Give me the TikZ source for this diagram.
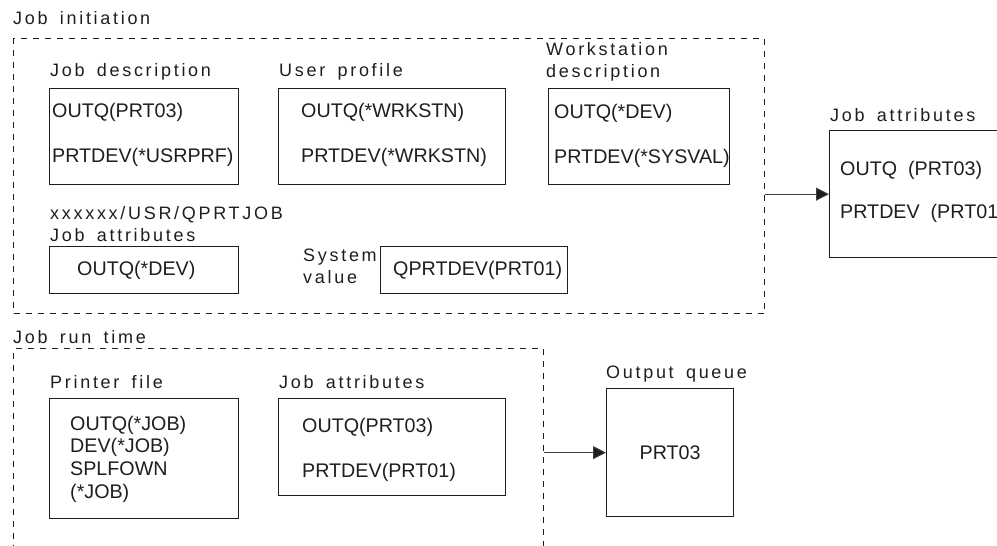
\documentclass[tikz,border=0pt]{standalone}
\usepackage{fontspec}
\setmainfont{Liberation Sans}
\newfontfamily\spacedfont[LetterSpace=15,WordSpace=1.6]{Liberation Sans}
\usetikzlibrary{arrows.meta}
\definecolor{inkgray}{RGB}{30,30,30}

\tikzset{
    box/.style={draw=inkgray, line width=1.3pt, inner sep=0pt, anchor=north west},
    phase/.style={draw=inkgray, line width=1pt, dash pattern=on 6pt off 6pt,
        inner sep=0pt, anchor=north west},
    entry/.style={anchor=west, inner sep=0pt, text=inkgray, align=left,
        font={\fontsize{19.7}{22.7}\selectfont}},
    heading/.style={anchor=west, inner sep=0pt, text=inkgray, align=left,
        font={\fontsize{18}{22}\spacedfont}},
    flow/.style={draw=inkgray!85, line width=0.9pt,
        -{Triangle[length=13pt, width=13pt, fill=inkgray]}}
}

\begin{document}
\begin{tikzpicture}[x=1pt, y=-1pt]
    \useasboundingbox (0, 0) rectangle (997, 546);
    \clip (0, 0) rectangle (997, 546);
    % Job initiation
    \node[heading] (InitTitle) at (13, 18) {Job initiation};
    \node[phase, minimum width=751pt, minimum height=275pt] (Init) at (13, 38) {};
    \node[heading] (JobDescTitle) at (50, 72) {Job description};
    \node[box, minimum width=189pt, minimum height=96pt] (JobDesc) at (49, 88) {};
    \node[entry] (JobDescOutq) at (52, 112) {OUTQ(PRT03)};
    \node[entry] (JobDescDev) at (52, 157) {PRTDEV(*USRPRF)};
    \node[heading] (UsrPrfTitle) at (279, 72) {User profile};
    \node[box, minimum width=227pt, minimum height=96pt] (UsrPrf) at (278, 88) {};
    \node[entry] (UsrPrfOutq) at (301, 112) {OUTQ(*WRKSTN)};
    \node[entry] (UsrPrfDev) at (301, 157) {PRTDEV(*WRKSTN)};
    \node[heading] (WrkStnTitle) at (546, 62) {Workstation\\description};
    \node[box, minimum width=181pt, minimum height=96pt] (WrkStn) at (548, 88) {};
    \node[entry] (WrkStnOutq) at (554, 113) {OUTQ(*DEV)};
    \node[entry] (WrkStnDev) at (554, 158) {PRTDEV(*SYSVAL)};
    \node[heading] (QprtTitle) at (50, 224) {xxxxxx/USR/QPRTJOB\\Job attributes};
    \node[box, minimum width=189pt, minimum height=47pt] (QprtJob) at (49, 246) {};
    \node[entry] (QprtOutq) at (77, 270) {OUTQ(*DEV)};
    \node[heading] (SysValTitle) at (303, 266) {System\\value};
    \node[box, minimum width=187pt, minimum height=47pt] (SysVal) at (380, 246) {};
    \node[entry] (SysValDev) at (393, 270) {QPRTDEV(PRT01)};
    % resulting job attributes
    \node[heading] (AttrTitle) at (830, 115) {Job attributes};
    \node[box, minimum width=200pt, minimum height=127pt] (JobAttr) at (829, 130) {};
    \node[entry] (AttrOutq) at (840, 170) {OUTQ~~(PRT03)};
    \node[entry] (AttrDev) at (840, 213) {PRTDEV~~(PRT01)};
    \draw[flow] (Init.east |- JobAttr.west) -- (JobAttr.west);
    % Job run time
    \node[heading] (RunTitle) at (13, 337) {Job run time};
    \node[phase, minimum width=530pt, minimum height=220pt] (RunTime) at (13, 348) {};
    \node[heading] (PrtfTitle) at (50, 382) {Printer file};
    \node[box, minimum width=189pt, minimum height=120pt] (Prtf) at (49, 398) {};
    \node[entry] (PrtfParms) at (70, 459) {OUTQ(*JOB)\\DEV(*JOB)\\SPLFOWN\\(*JOB)};
    \node[heading] (RunAttrTitle) at (279, 382) {Job attributes};
    \node[box, minimum width=227pt, minimum height=97pt] (RunAttr) at (278, 398) {};
    \node[entry] (RunAttrOutq) at (302, 427) {OUTQ(PRT03)};
    \node[entry] (RunAttrDev) at (302, 472) {PRTDEV(PRT01)};
    \node[heading] (OutqTitle) at (606, 374) {Output queue};
    \node[box, minimum width=127pt, minimum height=128pt] (Outq) at (606, 388) {};
    \node[entry, anchor=center] (OutqName) at (Outq.center) {PRT03};
    \draw[flow] (RunTime.east |- Outq.west) -- (Outq.west);
\end{tikzpicture}
\end{document}
